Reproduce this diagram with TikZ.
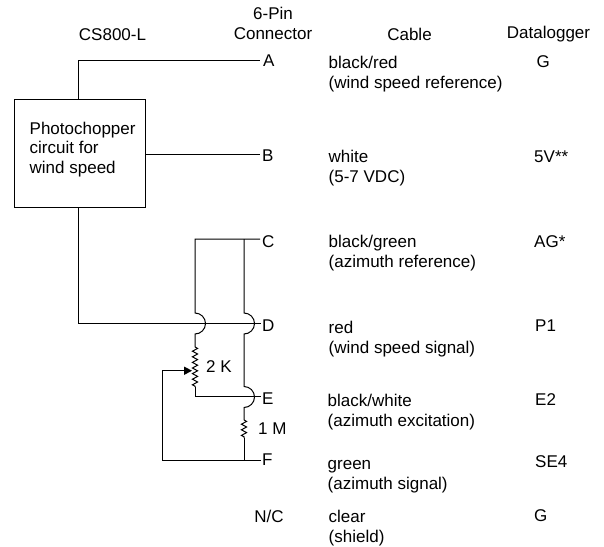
\documentclass[tikz,border=0pt]{standalone}
\usepackage{fontspec}
\setmainfont{Liberation Sans}
\usetikzlibrary{arrows.meta,decorations.pathmorphing}
\tikzset{
  lbl/.style={inner sep=0pt,font=\fontsize{17}{19}\selectfont,anchor=base west},
  ctr/.style={inner sep=0pt,font=\fontsize{17}{19}\selectfont,anchor=base},
  two/.style={inner sep=0pt,font=\fontsize{17}{19.6}\selectfont,align=left,anchor=base west},
  wire/.style={line width=1pt,line join=miter},
  zig/.style={decorate,decoration={zigzag,segment length=5.6pt,amplitude=2.6pt}}
}
\begin{document}
\begin{tikzpicture}[x=1pt,y=-1pt]
\useasboundingbox (0,0) rectangle (604,546);
% headers
\node[ctr] (h1) at (112.5,40) {CS800-L};
\node[ctr] (h2a) at (273,19) {6-Pin};
\node[ctr] (h2b) at (273,39) {Connector};
\node[ctr] (h3) at (409.5,40) {Cable};
\node[ctr] (h4) at (548.5,38) {Datalogger};
% box
\node[draw,line width=1pt,minimum width=131pt,minimum height=108pt,inner sep=0pt] (box) at (80,153.5) {};
\node[inner sep=0pt,font=\fontsize{17}{19.5}\selectfont,align=left,anchor=base west] (boxt) at (29.5,173.3) {Photochopper\\circuit for\\wind speed};
% pins
\node[lbl] (A) at (263,66.7) {A};
\node[lbl] (B) at (262,161.7) {B};
\node[lbl] (C) at (262,247) {C};
\node[lbl] (D) at (262,331) {D};
\node[lbl] (E) at (262,404) {E};
\node[lbl] (F) at (262,465) {F};
\node[ctr] (NC) at (269,522.5) {N/C};
% cable
\node[two] (c1) at (328.5,88) {black/red\\(wind speed reference)};
\node[two] (c2) at (328.5,182.5) {white\\(5-7 VDC)};
\node[two] (c3) at (328.5,267.5) {black/green\\(azimuth reference)};
\node[two] (c4) at (328.5,353) {red\\(wind speed signal)};
\node[two] (c5) at (327.5,426) {black/white\\(azimuth excitation)};
\node[two] (c6) at (327.5,489) {green\\(azimuth signal)};
\node[two] (c7) at (328.5,542) {clear\\(shield)};
% datalogger
\node[lbl] (d1) at (536.5,67.7) {G};
\node[lbl] (d2) at (534,162) {5V**};
\node[lbl] (d3) at (534,247.7) {AG*};
\node[lbl] (d4) at (535,331.7) {P1};
\node[lbl] (d5) at (535,405) {E2};
\node[lbl] (d6) at (535,467.7) {SE4};
\node[lbl] (d7) at (534,521.7) {G};
% resistors labels
\node[lbl] (r2) at (206,372) {2 K};
\node[lbl] (r1) at (258,434) {1 M};
% junction coordinates
\coordinate (Ae) at (260,60);
\coordinate (Be) at (260,154.5);
\coordinate (Ce) at (260,239);
\coordinate (De) at (261,323.7);
\coordinate (Ee) at (261,396.7);
\coordinate (Fe) at (261,460);
\coordinate (Tl) at (78.5,60);
\coordinate (Bl) at (78.5,323.7);
\coordinate (Cl) at (195,239);
\coordinate (Cr) at (244,239);
\coordinate (Fr) at (244,460);
\coordinate (Fl) at (162,460);
\coordinate (W) at (162,370.7);
\coordinate (Wt) at (191,370.7);
\coordinate (El) at (195,396.7);
% wires
\draw[wire] (box.north -| Tl) -- (Tl) -- (Ae);
\draw[wire] (box.east |- Be) -- (Be);
\draw[wire] (box.south -| Bl) -- (Bl) -- (De);
\draw[wire] (Ce) -- (Cl) -- (195,313) arc[start angle=-90,end angle=90,radius=10.5] -- (195,347);
\draw[wire,zig] (195,347) -- (195,387);
\draw[wire] (195,387) -- (El) -- (Ee);
\draw[wire] (Cr) -- (244,313) arc[start angle=-90,end angle=90,radius=10.5] -- (244,386.5) arc[start angle=-90,end angle=90,radius=10.5] -- (244,420);
\draw[wire,zig] (244,420) -- (244,438);
\draw[wire] (244,438) -- (Fr);
\draw[wire] (Fe) -- (Fl) -- (W) -- (Wt);
\fill (192,370.7) -- (184,366.5) -- (184,375) -- cycle;
\end{tikzpicture}
\end{document}
